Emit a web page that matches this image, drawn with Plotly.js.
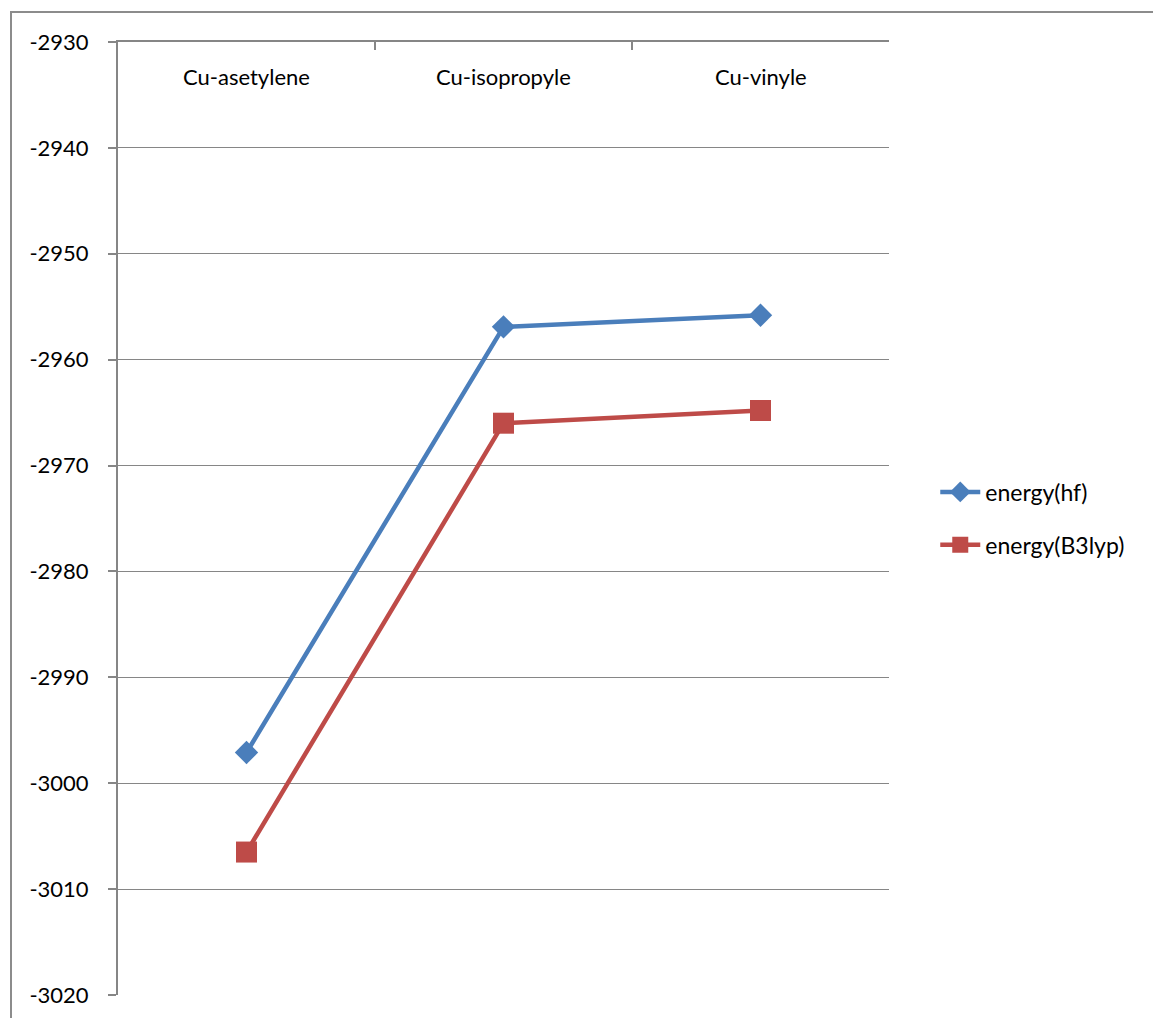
<!DOCTYPE html>
<html>
<head>
<meta charset="utf-8">
<script src="https://cdn.plot.ly/plotly-3.0.1.min.js"></script>
<style>
  html, body { margin: 0; padding: 0; background: #ffffff; }
  #wrap { position: relative; width: 1153px; height: 1018px; overflow: hidden; }
  #chart { position: absolute; left: 0; top: 0; width: 1153px; height: 1018px; }
  #frame { position: absolute; left: 10px; top: 11px; width: 1160px; height: 1030px;
           border: 2px solid #8c8c8c; box-sizing: border-box; pointer-events: none; }
</style>
</head>
<body>
<div id="wrap">
  <div id="chart"></div>
  <div id="frame"></div>
</div>
<script>
const categories = ["Cu-asetylene", "Cu-isopropyle", "Cu-vinyle"];
const energyHF = [-2997.1, -2956.9, -2955.8];
const energyB3lyp = [-3006.5, -2966.0, -2964.8];
const yTickValues = [-2930, -2940, -2950, -2960, -2970, -2980, -2990, -3000, -3010, -3020];

const fontFamily = "Lato, 'Open Sans', 'Noto Sans', sans-serif";

const traces = [
  {
    x: categories, y: energyHF, name: "energy(hf)", legendgroup: "a",
    type: "scatter", mode: "lines+markers",
    line: { color: "#4a7ebb", width: 4.5 },
    marker: { symbol: "diamond", size: 18, color: "#4a7ebb" }
  },
  {
    x: categories, y: energyB3lyp, name: "energy(B3lyp)", legendgroup: "b",
    type: "scatter", mode: "lines+markers",
    line: { color: "#be4b48", width: 4.5 },
    marker: { symbol: "square", size: 21, color: "#be4b48" }
  }
];

const annotations = categories.map(c => ({
  x: c, xref: "x", y: 1, yref: "paper", yanchor: "middle", yshift: -34,
  text: c, showarrow: false,
  font: { family: fontFamily, size: 22, color: "#000000" }
}));

const layout = {
  width: 1153, height: 1018,
  margin: { l: 118, r: 264, t: 42, b: 23, pad: 0 },
  paper_bgcolor: "#ffffff", plot_bgcolor: "#ffffff",
  font: { family: fontFamily, size: 21, color: "#000000" },
  showlegend: true,
  legend: {
    x: 1.06, y: 0.5, xanchor: "left", yanchor: "middle",
    font: { family: fontFamily, size: 23, color: "#000000" },
    bgcolor: "rgba(0,0,0,0)", traceorder: "grouped", tracegroupgap: 20, itemwidth: 40
  },
  annotations: annotations,
  xaxis: {
    type: "category", side: "top",
    showline: true, linecolor: "#868686", linewidth: 2,
    showgrid: false, zeroline: false,
    ticks: "inside", ticklen: 8, tickwidth: 2, tickcolor: "#868686",
    tickson: "boundaries",
    showticklabels: false,
    range: [-0.5, 2.5], fixedrange: true
  },
  yaxis: {
    range: [-3020, -2930],
    tickvals: yTickValues,
    ticktext: yTickValues.map(String),
    showline: true, linecolor: "#868686", linewidth: 2,
    showgrid: true, gridcolor: "#868686", gridwidth: 1,
    zeroline: false,
    ticks: "outside", ticklen: 8, tickwidth: 2, tickcolor: "#868686",
    ticklabelstandoff: 15,
    tickfont: { family: fontFamily, size: 22, color: "#000000" },
    fixedrange: true
  }
};

Plotly.newPlot("chart", traces, layout, { displayModeBar: false, staticPlot: true });
</script>
</body>
</html>
